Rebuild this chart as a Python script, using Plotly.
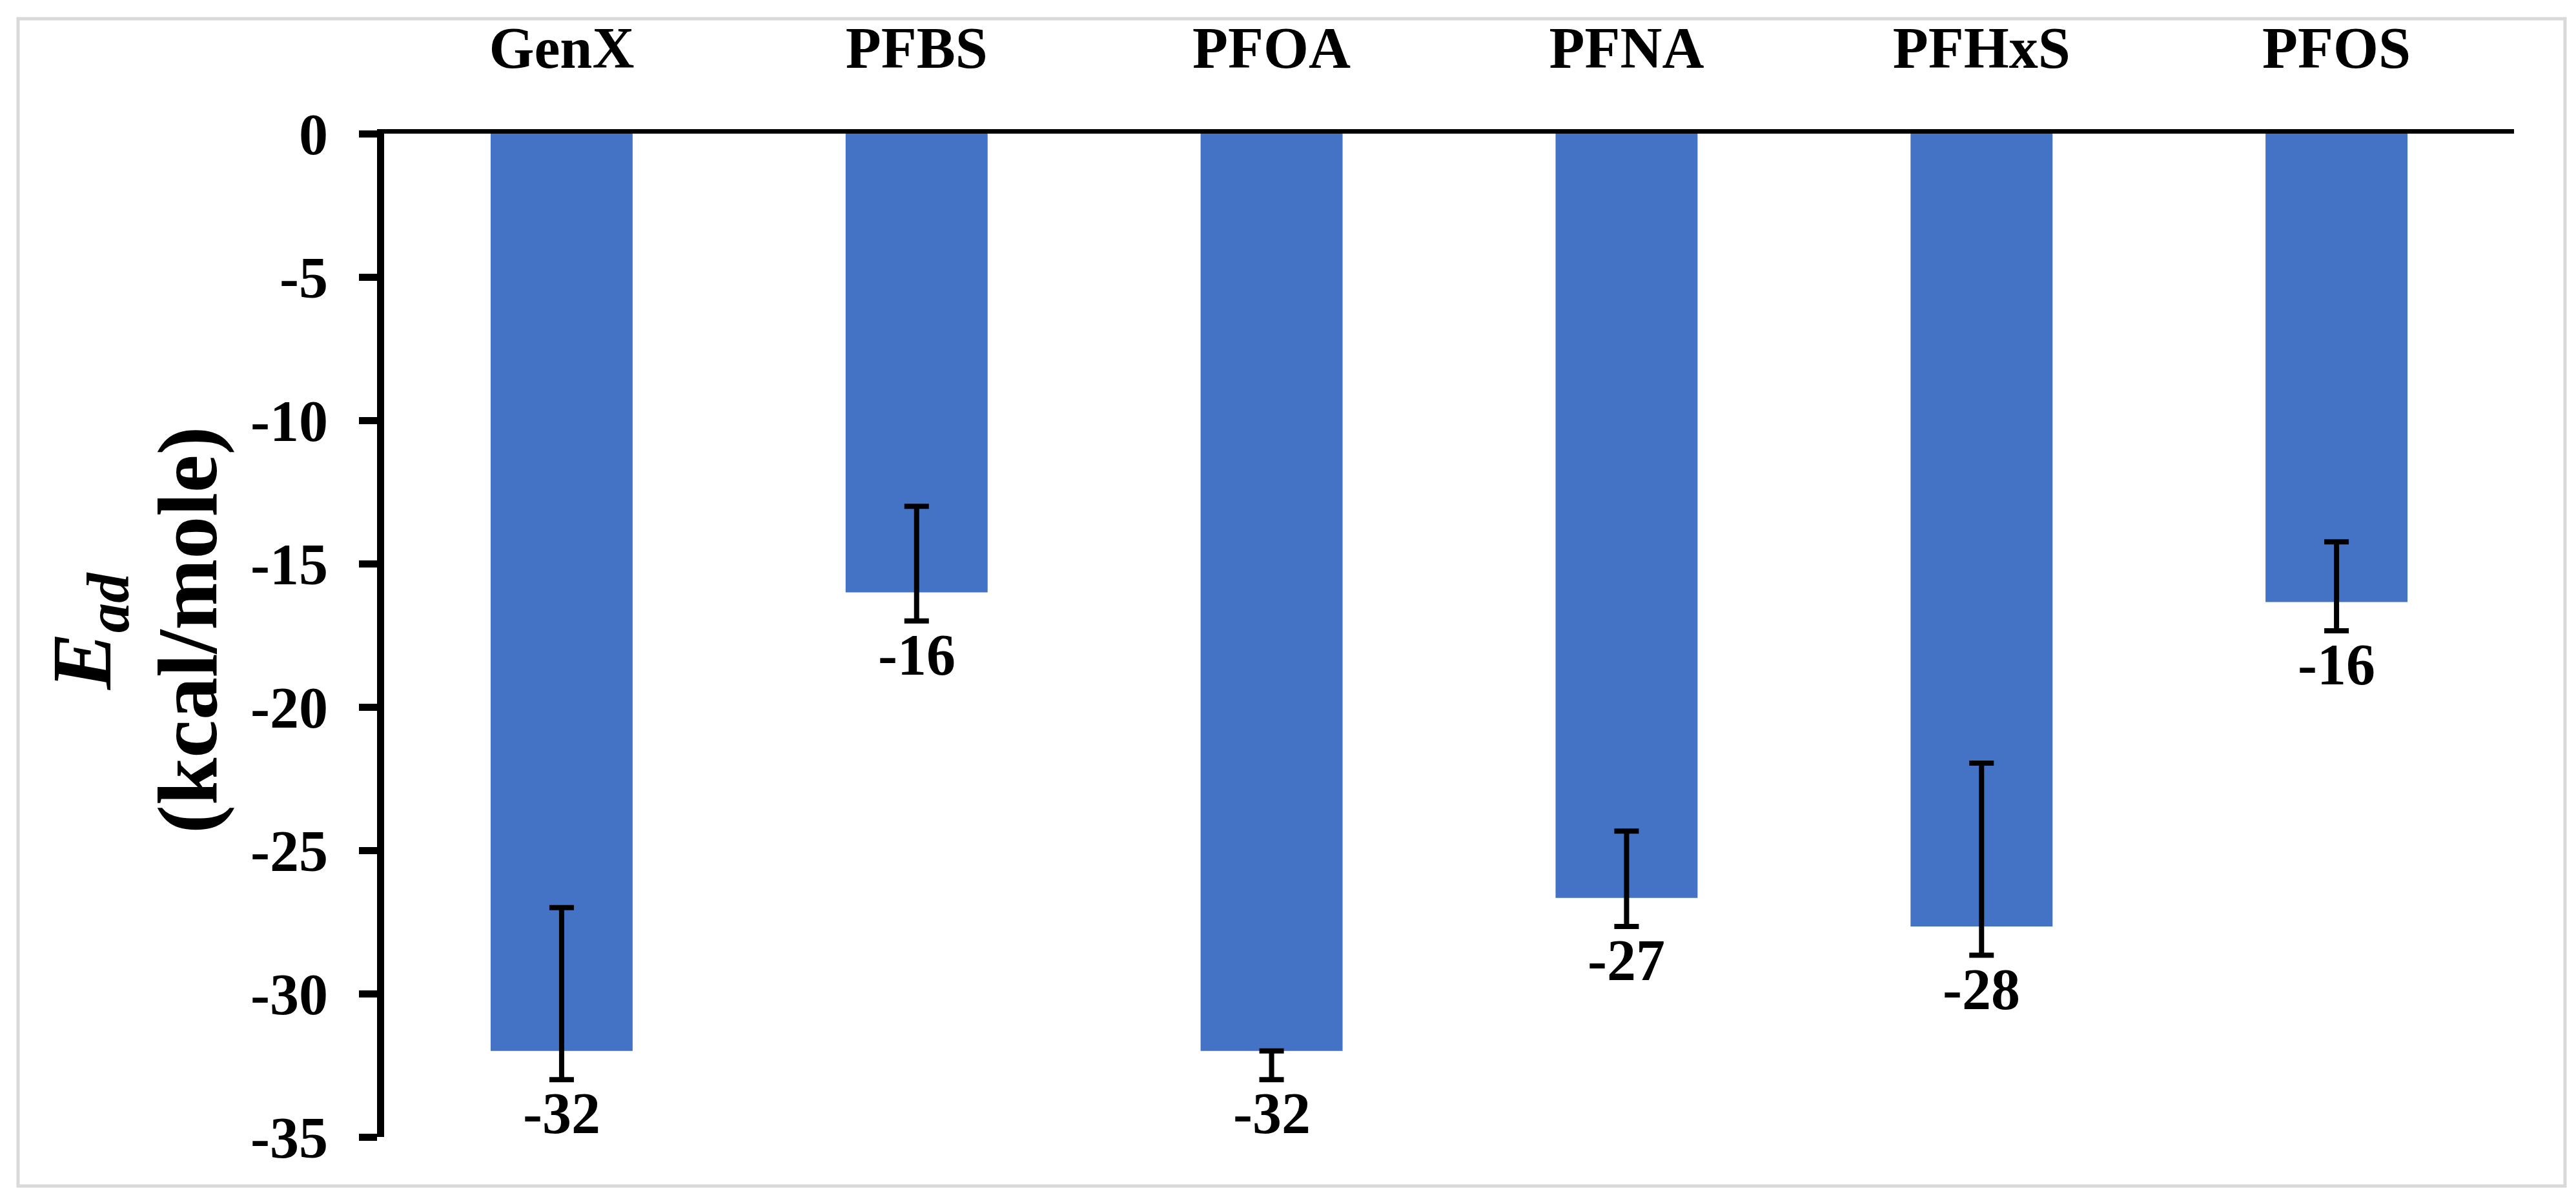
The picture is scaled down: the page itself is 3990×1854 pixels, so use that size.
import plotly.graph_objects as go

# ---- data ----
categories = ["GenX", "PFBS", "PFOA", "PFNA", "PFHxS", "PFOS"]
e_ad = [-32.0, -16.0, -32.0, -26.66, -27.66, -16.34]
err_plus = [5.0, 3.0, 0.0, 2.33, 5.7, 2.1]
err_minus = [1.0, 1.0, 1.0, 1.0, 1.0, 1.0]
y_ticks = [0, -5, -10, -15, -20, -25, -30, -35]

W, H = 3990, 1854
L, R, T, B = 587, 104, 199, 101
FONT = "Times New Roman, Liberation Serif, serif"
BAR_COLOR = "#4472C4"

fig = go.Figure()
fig.add_trace(go.Bar(
    x=categories, y=e_ad,
    marker=dict(color=BAR_COLOR, line=dict(width=0)),
    error_y=dict(type="data", array=err_plus, arrayminus=err_minus,
                 symmetric=False, color="black", thickness=8, width=19),
    showlegend=False,
))

# data labels under the error bars
for c, v, m in zip(categories, e_ad, err_minus):
    fig.add_annotation(x=c, y=v - m, xref="x", yref="y", text=f"<b>{round(v)}</b>",
                       showarrow=False, yanchor="top", xanchor="center", yshift=-1,
                       font=dict(family=FONT, size=90, color="black"))

pw = W - L - R
ph = H - T - B

def px_to_paper_x(px):
    return (px - L) / pw

def px_to_paper_y(py):
    return (H - B - py) / ph

# y-axis title as two rotated lines
fig.add_annotation(xref="paper", yref="paper", x=0, y=0.5, xshift=128 - L, yshift=6,
                   text="<b><i>E</i></b><sub><b><i>ad</i></b></sub>", textangle=-90,
                   showarrow=False, xanchor="center", yanchor="middle",
                   font=dict(family=FONT, size=132, color="black"))
fig.add_annotation(xref="paper", yref="paper", x=0, y=0.5, xshift=282 - L, yshift=8,
                   text="<b>(kcal/mole)</b>", textangle=-90,
                   showarrow=False, xanchor="center", yanchor="middle",
                   font=dict(family=FONT, size=132, color="black"))

# outer chart border
fig.add_shape(type="rect", xref="paper", yref="paper",
              x0=px_to_paper_x(20), x1=px_to_paper_x(3965),
              y0=px_to_paper_y(1829), y1=px_to_paper_y(21),
              line=dict(color="#D9D9D9", width=5), layer="below")

fig.update_layout(
    width=W, height=H,
    margin=dict(l=L, r=R, t=T, b=B),
    paper_bgcolor="white", plot_bgcolor="white",
    bargap=0.6,
    font=dict(family=FONT, color="black"),
    xaxis=dict(side="top", showline=True, linecolor="black", linewidth=7,
               ticks="", showgrid=False, zeroline=False, ticklabelstandoff=59,
               tickfont=dict(family=FONT, size=90, color="black"),
               tickprefix="<b>", ticksuffix="</b>"),
    yaxis=dict(range=[-35, 0], tickvals=y_ticks, ticktext=[f"<b>{t}</b>" for t in y_ticks],
               showline=True, linecolor="black", linewidth=11,
               ticks="outside", ticklen=28, tickwidth=11, tickcolor="black",
               ticklabelstandoff=30,
               showgrid=False, zeroline=False,
               tickfont=dict(family=FONT, size=90, color="black")),
)

fig.write_html("out.html")
